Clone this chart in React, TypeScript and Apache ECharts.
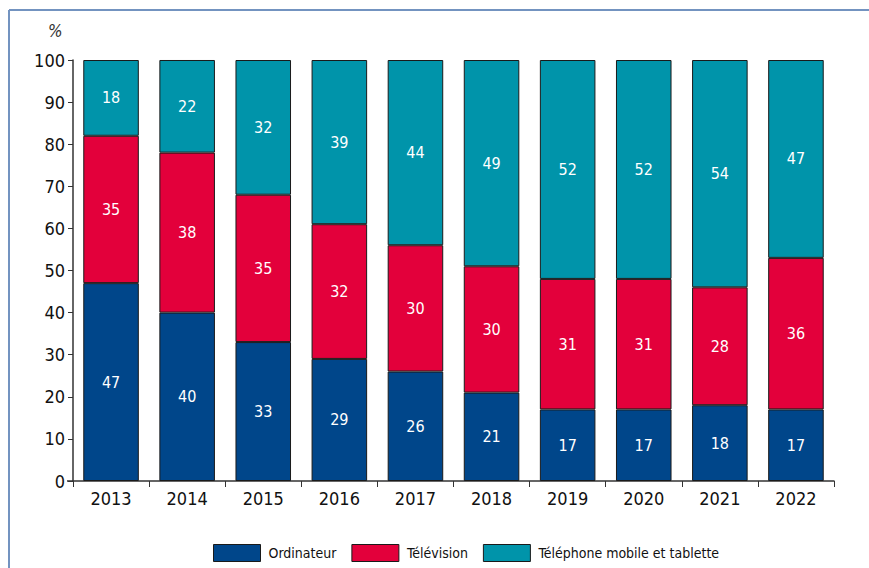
import React, { useEffect, useRef } from "react";
import * as echarts from "echarts";

const years = ["2013", "2014", "2015", "2016", "2017", "2018", "2019", "2020", "2021", "2022"];
const ordinateur = [47, 40, 33, 29, 26, 21, 17, 17, 18, 17];
const television = [35, 38, 35, 32, 30, 30, 31, 31, 28, 36];
const mobile = [18, 22, 32, 39, 44, 49, 52, 52, 54, 47];
const seriesNames = ["Ordinateur", "Télévision", "Téléphone mobile et tablette"];
const colors = ["#00468a", "#e3003b", "#0094aa"];

const FONT = "'DejaVu Sans Condensed', 'Liberation Sans Narrow', sans-serif";

export default function App() {
  const ref = useRef<HTMLDivElement>(null);
  useEffect(() => {
    if (!ref.current) return;
    const chart = echarts.init(ref.current, undefined, { renderer: "svg" });
    const mk = (name: string, data: number[], color: string) => ({
      name,
      type: "bar",
      stack: "total",
      data,
      barWidth: "73%",
      itemStyle: { color, borderColor: "#1a1a1a", borderWidth: 1 },
      label: {
        show: true,
        position: "inside",
        color: "#ffffff",
        fontFamily: FONT,
        fontSize: 16,
      },
    });
    chart.setOption({
      animation: false,
      textStyle: { fontFamily: FONT },
      grid: { left: 73, right: 35, top: 60, bottom: 87, containLabel: false },
      xAxis: {
        type: "category",
        data: years,
        axisLine: { show: true, lineStyle: { color: "#333", width: 1.5 } },
        axisTick: { show: true, length: 6, lineStyle: { color: "#333" } },
        axisLabel: { color: "#111", fontSize: 18, fontFamily: FONT, margin: 8 },
      },
      yAxis: {
        type: "value",
        min: 0,
        max: 100,
        interval: 10,
        axisLine: { show: true, lineStyle: { color: "#333", width: 1.5 } },
        axisTick: { show: true, length: 5, lineStyle: { color: "#333" } },
        splitLine: { show: false },
        axisLabel: { color: "#111", fontSize: 18, fontFamily: FONT, margin: 8 },
      },
      legend: {
        top: 539,
        left: 208,
        itemWidth: 47,
        itemHeight: 17,
        itemGap: 15,
        icon: "rect",
        data: seriesNames.map((n) => ({ name: n, itemStyle: { borderColor: "#1a1a1a", borderWidth: 1 } })),
        textStyle: { color: "#111", fontSize: 14, fontFamily: FONT, padding: [0, 0, 0, 3] },
      },
      graphic: [
        { type: "line", shape: { x1: 9, y1: 10, x2: 9, y2: 568 }, style: { stroke: "#7393c0", lineWidth: 2 } },
        { type: "line", shape: { x1: 9, y1: 10, x2: 869, y2: 10 }, style: { stroke: "#7393c0", lineWidth: 2 } },
        { type: "line", shape: { x1: 67, y1: 481, x2: 73, y2: 481 }, style: { stroke: "#333", lineWidth: 1.5 } },
        { type: "text", x: 48, y: 22, style: { text: "%", fontSize: 17, fontStyle: "italic", fontFamily: FONT, fill: "#333" } },
      ],
      series: [
        mk(seriesNames[0], ordinateur, colors[0]),
        mk(seriesNames[1], television, colors[1]),
        mk(seriesNames[2], mobile, colors[2]),
      ],
    });
    return () => chart.dispose();
  }, []);
  return <div ref={ref} style={{ width: 869, height: 568, position: "absolute", left: 0, top: 0 }} />;
}
